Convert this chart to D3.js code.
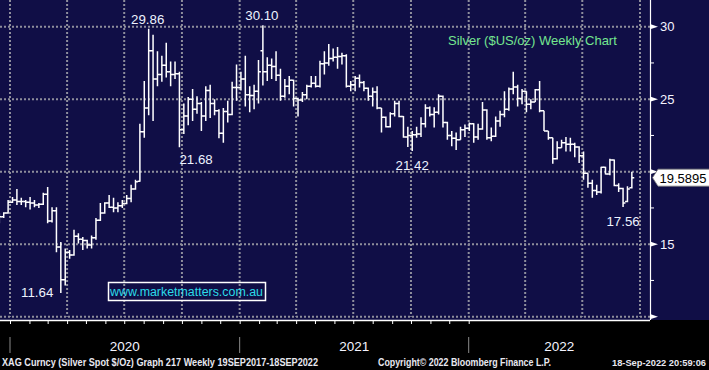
<!DOCTYPE html>
<html>
<head>
<meta charset="utf-8">
<script src="https://cdn.jsdelivr.net/npm/d3@7"></script>
<style>
  body { margin: 0; background: #000; }
  svg { display: block; font-family: "Liberation Sans", Arial, sans-serif; }
</style>
</head>
<body>
<div id="chart"></div>
<script>
// Weekly bars, dated by the Sunday after each trading week
const firstWeek = '2019-12-15';

// Open / high / low / close per week (Dec 2019 -> Sep 2022)
const opens = [
  16.55, 16.90, 17.15,
  // 2020
  17.90, 18.05, 17.95, 17.95, 17.90, 17.85, 17.70, 17.75, 18.45, 16.60, 17.30, 14.80, 12.55,
  14.45, 14.25, 15.55, 15.35, 15.25, 14.95, 15.45, 16.65, 17.15, 17.85, 17.55, 17.50, 17.65,
  17.80, 18.15, 18.80, 19.35, 22.75, 24.40, 28.35, 26.40, 26.70, 27.35, 26.90, 26.70, 26.75,
  22.90, 23.85, 25.00, 24.30, 24.70, 23.85, 25.60, 24.70, 24.20, 22.65, 24.15, 23.95, 25.80,
  // 2021
  25.80, 26.40, 25.30, 25.25, 25.55, 28.35, 26.90, 27.35, 27.25, 26.65, 25.20, 25.90, 26.30,
  25.05, 24.95, 25.30, 25.90, 26.10, 25.90, 27.45, 27.50, 27.80, 27.90, 27.95, 28.00, 25.90,
  26.00, 26.45, 26.15, 25.75, 25.20, 25.50, 24.40, 23.75, 23.10, 24.00, 24.70, 23.80, 22.40,
  22.50, 22.55, 22.60, 23.30, 24.40, 23.95, 24.10, 25.20, 23.40, 22.50, 22.30, 22.20, 22.90,
  // 2022
  23.00, 23.30, 22.40, 22.95, 24.25, 22.35, 22.45, 23.50, 23.95, 24.30, 25.70, 25.85, 25.05,
  25.55, 24.65, 24.80, 25.65, 24.20, 22.80, 22.35, 20.90, 21.65, 22.00, 21.90, 21.90, 21.70,
  21.10, 19.90, 19.20, 18.70, 18.60, 20.30, 19.85, 20.80, 19.05, 18.85, 17.95, 18.90
];
const highs = [
  17.15, 17.20, 18.05,
  18.25, 18.80, 18.20, 18.05, 18.25, 18.05, 17.85, 18.55, 18.95, 17.55, 17.55, 15.15,
  14.70, 14.60, 16.00, 15.75, 15.50, 15.30, 15.60, 16.80, 17.85, 17.90, 18.40, 18.20, 17.90,
  18.05, 18.40, 19.10, 19.45, 23.30, 26.25, 29.86, 29.45, 28.30, 28.00, 28.90, 27.60, 27.60,
  26.90, 24.70, 25.15, 25.70, 25.20, 24.80, 25.90, 26.00, 25.00, 24.30, 24.40, 24.90, 26.20,
  27.40,
  26.90, 28.00, 25.90, 26.00, 27.70, 30.10, 27.90, 27.80, 28.30, 27.10, 26.40, 26.60, 26.35,
  25.10, 25.50, 26.00, 26.60, 26.60, 27.65, 28.30, 28.80, 28.50, 28.60, 28.20, 28.10, 26.25,
  26.60, 26.70, 26.25, 25.80, 25.80, 25.90, 24.40, 23.80, 24.10, 24.90, 24.90, 23.85, 23.10,
  22.80, 23.10, 23.75, 24.65, 24.50, 24.45, 25.35, 25.25, 23.45, 22.80, 22.70, 23.10, 23.25,
  23.40, 23.35, 23.30, 24.80, 24.30, 23.05, 23.80, 24.20, 25.55, 25.80, 26.90, 26.00, 25.70,
  25.55, 25.00, 25.70, 26.25, 24.20, 22.80, 22.35, 22.10, 22.20, 22.40, 22.35, 22.00, 21.75,
  21.40, 19.90, 19.45, 19.10, 20.35, 20.35, 20.90, 20.85, 19.20, 18.90, 19.00, 20.00
];
const lows = [
  16.45, 16.80, 17.10,
  17.85, 17.70, 17.70, 17.55, 17.40, 17.55, 17.50, 17.70, 16.45, 16.50, 14.45, 11.64, 12.15,
  14.00, 14.20, 15.05, 14.60, 14.70, 14.70, 15.30, 16.60, 17.10, 17.50, 17.20, 17.20, 17.50,
  17.75, 17.90, 18.75, 19.30, 22.35, 23.90, 23.50, 25.90, 26.20, 26.50, 25.90, 26.40, 21.68,
  22.60, 23.20, 23.50, 24.00, 22.80, 23.50, 23.70, 23.90, 22.30, 22.00, 23.40, 23.90, 24.90,
  25.60, 24.50, 24.10, 24.30, 24.70, 25.95, 26.25, 26.40, 26.25, 24.90, 25.10, 25.35, 24.50,
  23.80, 24.80, 25.00, 25.80, 25.80, 25.80, 26.70, 27.30, 27.60, 27.10, 27.40, 25.80, 25.55,
  25.55, 25.80, 25.55, 24.90, 24.50, 24.30, 22.70, 23.05, 23.05, 23.80, 23.75, 22.35, 21.70,
  21.42, 22.35, 22.40, 23.05, 23.80, 23.05, 23.95, 23.05, 22.20, 21.75, 21.50, 22.20, 22.40,
  22.80, 22.00, 22.20, 22.90, 22.20, 22.10, 22.40, 23.10, 23.75, 24.20, 25.35, 24.50, 24.65,
  24.10, 24.30, 24.80, 24.10, 22.80, 22.20, 20.55, 20.85, 21.65, 21.40, 21.40, 21.00, 20.60,
  19.45, 18.90, 18.20, 18.40, 18.50, 19.80, 19.75, 19.00, 18.60, 17.56, 17.90, 18.85
];
const closes = [
  16.90, 17.15, 17.90,
  18.05, 17.95, 17.95, 17.90, 17.85, 17.70, 17.75, 18.45, 16.60, 17.30, 14.80, 12.55, 14.45,
  14.25, 15.55, 15.35, 15.25, 14.95, 15.45, 16.65, 17.15, 17.85, 17.55, 17.50, 17.65, 17.80,
  18.15, 18.80, 19.30, 22.75, 24.40, 28.35, 26.40, 26.70, 27.35, 26.90, 26.70, 26.75, 22.90,
  23.85, 25.00, 24.30, 24.70, 23.85, 25.60, 24.70, 24.20, 22.65, 24.15, 23.95, 25.80, 25.80,
  26.40, 25.30, 25.25, 25.55, 26.90, 26.90, 27.35, 27.25, 26.65, 25.20, 25.90, 26.30, 25.05,
  24.95, 25.30, 25.90, 26.10, 25.90, 27.45, 27.50, 27.80, 27.90, 27.95, 28.00, 25.90, 26.00,
  26.45, 26.15, 25.75, 25.20, 25.50, 24.40, 23.75, 23.10, 24.00, 24.70, 23.80, 22.40, 22.50,
  22.55, 22.60, 23.30, 24.40, 23.95, 24.10, 25.20, 23.40, 22.50, 22.30, 22.20, 22.90, 23.00,
  23.30, 22.40, 22.95, 24.25, 22.35, 22.45, 23.50, 23.95, 24.30, 25.70, 25.85, 25.05, 25.55,
  24.65, 24.80, 25.65, 24.20, 22.80, 22.35, 20.90, 21.65, 22.00, 21.90, 21.90, 21.70, 21.10,
  19.90, 19.20, 18.70, 18.60, 20.30, 19.85, 20.80, 19.05, 18.85, 17.85, 18.80, 19.5895
];

// Right axis labels and marks ("20" sits behind the last-price box)
const priceLabels = [15, 25, 30];
const priceMarks = [10, 15, 20, 25, 30];
const minorMarks = [12.5, 17.5, 22.5, 27.5];
const lastPrice = 19.5895;

// Year labels along the bottom
const yearLabels = ['2020', '2021', '2022'];

// Called-out highs and lows
const noteDates  = ['2020-08-09', '2021-02-07', '2020-09-27', '2021-10-03', '2020-03-22', '2022-09-04'];
const noteValues = [29.86, 30.10, 21.68, 21.42, 11.64, 17.56];
const notePlace  = ['above', 'above', 'belowStart', 'below', 'left', 'below'];

const title = 'Silver ($US/oz) Weekly Chart';
const website = 'www.marketmatters.com.au';
const footLeft = 'XAG Curncy (Silver Spot  $/Oz) Graph 217  Weekly 19SEP2017-18SEP2022';
const footMid = 'Copyright\u00A9 2022 Bloomberg Finance L.P.';
const footRight = '18-Sep-2022 20:59:06';

// Layout
const width = 709, height = 370;
const plotRight = 650, plotBottom = 320;
const navy = '#100e46';

const parseDate = d3.timeParse('%Y-%m-%d');
const bars = opens.map((o, i) => ({
  date: d3.timeWeek.offset(parseDate(firstWeek), i),
  open: o, high: highs[i], low: lows[i], close: closes[i]
}));

const x = d3.scaleTime()
  .domain([new Date(2020, 0, 1), new Date(2022, 0, 1)])
  .range([10, 468.7]);
const y = d3.scaleLinear()
  .domain([10, 30])
  .range([316.7, 26.7]);

const startDate = x.invert(0), endDate = x.invert(plotRight);

const svg = d3.select('#chart').append('svg')
  .attr('width', width)
  .attr('height', height);

// backgrounds
svg.append('rect').attr('width', width).attr('height', height).attr('fill', '#000');
svg.append('rect').attr('width', width).attr('height', plotBottom).attr('fill', navy);

svg.append('defs').append('clipPath').attr('id', 'plot-clip')
  .append('rect').attr('width', plotRight).attr('height', plotBottom);

// dotted grid
const grid = svg.append('g')
  .attr('stroke', '#8e8e9c')
  .attr('stroke-width', 2)
  .attr('stroke-dasharray', '2,2');
grid.selectAll('.hgrid')
  .data(priceMarks)
  .enter().append('line')
  .attr('x1', 0).attr('x2', plotRight)
  .attr('y1', d => y(d)).attr('y2', d => y(d));
grid.selectAll('.vgrid')
  .data(d3.timeMonth.every(3).range(startDate, endDate))
  .enter().append('line')
  .attr('x1', d => x(d)).attr('x2', d => x(d))
  .attr('y1', 0).attr('y2', y(10));

// OHLC bars
const tick = 2.4;
svg.append('g')
  .attr('clip-path', 'url(#plot-clip)')
  .selectAll('path')
  .data(bars)
  .enter().append('path')
  .attr('fill', 'none')
  .attr('stroke', '#fff')
  .attr('stroke-width', 1.5)
  .attr('d', d => {
    const bx = x(d.date);
    return 'M' + bx + ',' + y(d.high) + 'V' + y(d.low) +
      'M' + (bx - tick) + ',' + y(d.open) + 'H' + bx +
      'M' + bx + ',' + y(d.close) + 'H' + (bx + tick);
  });

// bottom axis with monthly ticks
const xAxis = svg.append('g')
  .attr('transform', 'translate(0,' + plotBottom + ')')
  .call(d3.axisBottom(x)
    .ticks(d3.timeMonth.every(1))
    .tickSize(4)
    .tickFormat(''));
xAxis.select('.domain').attr('stroke', '#fff').attr('stroke-width', 1.5)
  .attr('d', 'M0,0.5H' + plotRight);
xAxis.selectAll('.tick line').attr('stroke', '#fff');
xAxis.selectAll('.tick').filter(d => x(d) < 0 || x(d) > plotRight).remove();

// year separators and labels
const yearStarts = d3.timeYear.range(startDate, endDate);
svg.selectAll('.year-sep')
  .data(yearStarts)
  .enter().append('line')
  .attr('x1', d => x(d)).attr('x2', d => x(d))
  .attr('y1', 337).attr('y2', 353)
  .attr('stroke', '#8a8a8a')
  .attr('stroke-width', 1);
svg.selectAll('.year-label')
  .data(yearStarts)
  .enter().append('text')
  .attr('x', d => (Math.max(0, x(d)) + Math.min(plotRight, x(d3.timeYear.offset(d, 1)))) / 2)
  .attr('y', 351)
  .attr('text-anchor', 'middle')
  .attr('fill', '#f4f4ff')
  .attr('font-size', 13.5)
  .text((d, i) => yearLabels[i]);

// right price axis
const yAxis = svg.append('g')
  .attr('transform', 'translate(' + plotRight + ',0)')
  .call(d3.axisRight(y)
    .tickValues(priceLabels)
    .tickSize(0)
    .tickPadding(10));
yAxis.select('.domain').attr('stroke', '#fff').attr('stroke-width', 1.2)
  .attr('d', 'M0.5,0V' + plotBottom);
yAxis.selectAll('.tick text')
  .attr('fill', '#f4f4ff')
  .attr('font-size', 13)
  .attr('font-family', '"Liberation Sans", Arial, sans-serif');

svg.selectAll('.mark')
  .data(priceMarks)
  .enter().append('path')
  .attr('fill', '#fff')
  .attr('d', d => 'M' + plotRight + ',' + (y(d) - 2.6) + 'L' + (plotRight + 8) + ',' + y(d) +
    'L' + plotRight + ',' + (y(d) + 2.6) + 'Z');
svg.selectAll('.minor')
  .data(minorMarks)
  .enter().append('line')
  .attr('x1', plotRight).attr('x2', plotRight + 4)
  .attr('y1', d => y(d)).attr('y2', d => y(d))
  .attr('stroke', '#fff');

// last price callout
const ly = y(lastPrice);
svg.append('path')
  .attr('fill', '#fff')
  .attr('stroke', '#777')
  .attr('stroke-width', 0.8)
  .attr('d', 'M' + (plotRight + 2.5) + ',' + ly + 'L' + (plotRight + 8) + ',' + (ly - 8.5) +
    'H' + (width + 2) + 'V' + (ly + 8.5) + 'H' + (plotRight + 8) + 'Z');
svg.append('text')
  .attr('x', plotRight + 9.5)
  .attr('y', ly + 5)
  .attr('fill', '#000')
  .attr('font-size', 13)
  .text(lastPrice);

// title
svg.append('text')
  .attr('x', 448)
  .attr('y', 45)
  .attr('fill', '#74e690')
  .attr('font-size', 13)
  .text(title);

// high / low annotations
const notes = svg.append('g')
  .attr('fill', '#eef3ff')
  .attr('font-size', 13.3);
noteValues.forEach((v, i) => {
  const nx = x(parseDate(noteDates[i]));
  const t = notes.append('text').text(v.toFixed(2));
  if (notePlace[i] === 'above') {
    t.attr('x', nx - 1).attr('y', y(v) - 5).attr('text-anchor', 'middle');
  } else if (notePlace[i] === 'belowStart') {
    t.attr('x', nx).attr('y', y(v) + 17);
  } else if (notePlace[i] === 'below') {
    t.attr('x', nx).attr('y', y(v) + 18.5).attr('text-anchor', 'middle');
  } else {
    t.attr('x', nx - 7.5).attr('y', y(v) + 4.5).attr('text-anchor', 'end');
  }
});

// website box
svg.append('rect')
  .attr('x', 108.5).attr('y', 282.5)
  .attr('width', 157).attr('height', 18)
  .attr('fill', 'none')
  .attr('stroke', '#fff')
  .attr('stroke-width', 1.5);
svg.append('text')
  .attr('x', 110)
  .attr('y', 296)
  .attr('fill', '#2cdbe8')
  .attr('font-size', 12.5)
  .attr('textLength', 153)
  .attr('lengthAdjust', 'spacingAndGlyphs')
  .text(website);

// footer
const foot = svg.append('g')
  .attr('fill', '#e8e8f0')
  .attr('font-size', 10.5)
  .attr('font-weight', 'bold');
foot.append('text').attr('x', 2).attr('y', 365.5)
  .attr('textLength', 316).attr('lengthAdjust', 'spacingAndGlyphs').text(footLeft);
foot.append('text').attr('x', 378).attr('y', 365.5)
  .attr('textLength', 173).attr('lengthAdjust', 'spacingAndGlyphs').text(footMid);
foot.append('text').attr('x', 612).attr('y', 365.5)
  .attr('font-size', 9.2)
  .attr('textLength', 94).attr('lengthAdjust', 'spacingAndGlyphs').text(footRight);
</script>
</body>
</html>
